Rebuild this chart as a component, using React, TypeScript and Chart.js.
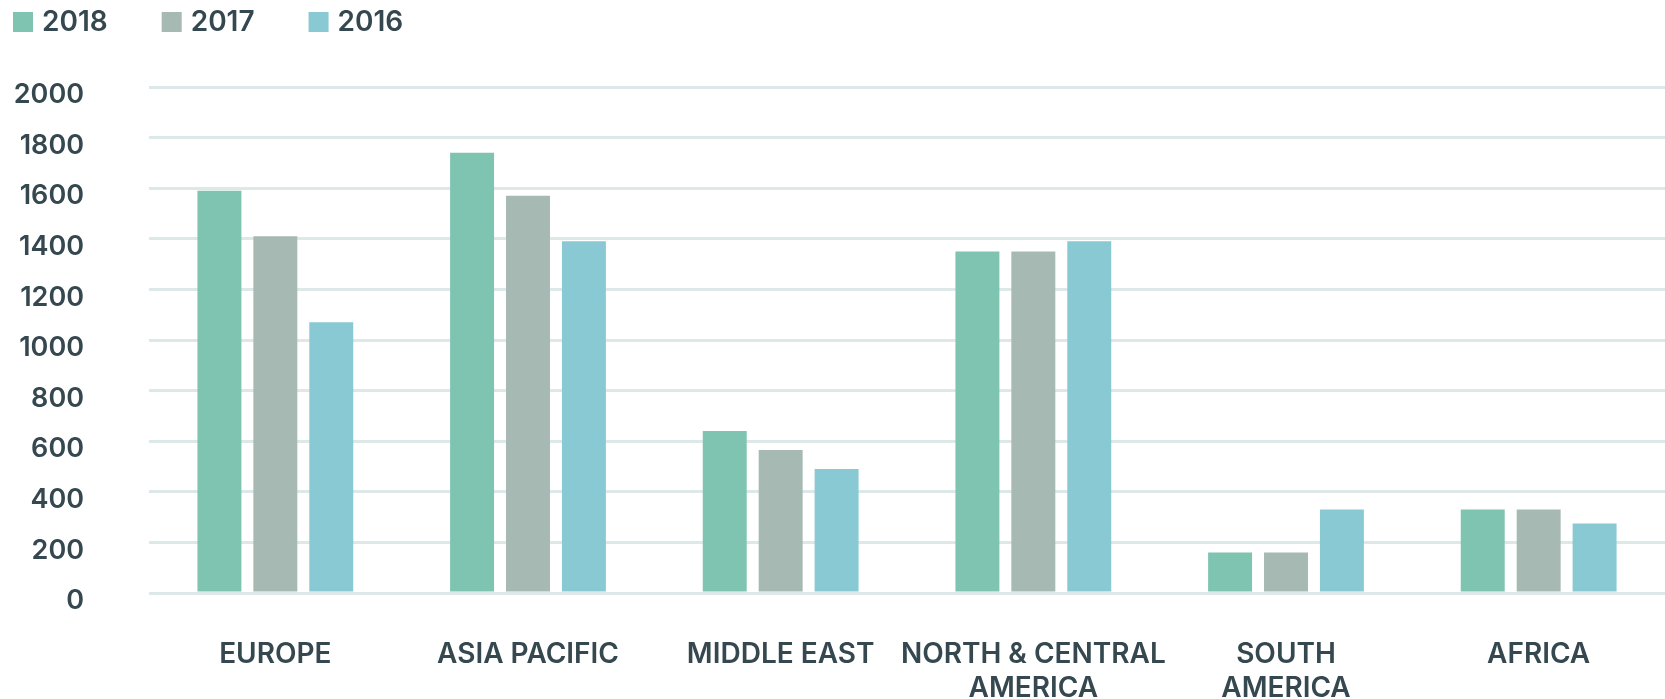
import React, { useEffect, useRef } from "react";
import { Chart, registerables } from "chart.js";

Chart.register(...registerables);

const categories: (string | string[])[] = [
  "EUROPE",
  "ASIA PACIFIC",
  "MIDDLE EAST",
  ["NORTH & CENTRAL", "AMERICA"],
  ["SOUTH", "AMERICA"],
  "AFRICA",
];
const seriesLabels = ["2018", "2017", "2016"];
const values2018 = [1590, 1740, 640, 1350, 160, 330];
const values2017 = [1410, 1570, 565, 1350, 160, 330];
const values2016 = [1070, 1390, 490, 1390, 330, 275];
const seriesColors = ["#7fc4b1", "#a6b9b2", "#89c9d4"];
const yMin = 0;
const yMax = 2000;
const yStep = 200;

const TEXT = "#36484f";
const GRID = "#dde8e8";
const FONT = "Inter, 'Open Sans', sans-serif";

const legendPlugin = {
  id: "topLegend",
  afterDraw(chart: any) {
    const ctx = chart.ctx as CanvasRenderingContext2D;
    ctx.save();
    ctx.font = `600 28px ${FONT}`;
    ctx.textBaseline = "middle";
    ctx.textAlign = "left";
    let x = 13;
    chart.data.datasets.forEach((ds: any) => {
      ctx.fillStyle = ds.backgroundColor;
      ctx.fillRect(x, 12, 20, 20);
      ctx.fillStyle = TEXT;
      ctx.fillText(ds.label, x + 29, 23);
      x += 29 + ctx.measureText(ds.label).width + 54;
    });
    ctx.restore();
  },
};

export default function App() {
  const ref = useRef<HTMLCanvasElement | null>(null);

  useEffect(() => {
    if (!ref.current) return;
    const allValues = [values2018, values2017, values2016];
    const chart = new Chart(ref.current, {
      type: "bar",
      data: {
        labels: categories,
        datasets: seriesLabels.map((label, i) => ({
          label,
          data: allValues[i],
          backgroundColor: seriesColors[i],
          borderWidth: 0,
          categoryPercentage: 0.664,
          barPercentage: 0.786,
        })),
      },
      options: {
        animation: false,
        responsive: true,
        maintainAspectRatio: false,
        layout: { padding: { top: 87, right: 0, left: 0, bottom: 0 } },
        plugins: {
          legend: { display: false },
          tooltip: { enabled: false },
        },
        scales: {
          x: {
            grid: { display: false, drawTicks: false },
            border: { display: false },
            ticks: {
              color: TEXT,
              font: { family: FONT, size: 28, weight: 600, lineHeight: 1.22 },
              padding: 44,
              maxRotation: 0,
              autoSkip: false,
            },
            afterFit: (s: any) => {
              s.height = 106;
            },
          },
          y: {
            min: yMin,
            max: yMax,
            grid: { color: GRID, lineWidth: 3, drawTicks: false },
            border: { display: false },
            ticks: {
              stepSize: yStep,
              color: TEXT,
              font: { family: FONT, size: 27, weight: 600 },
              padding: 65,
              labelOffset: 8,
              callback: (v: any) => String(v),
            },
            afterFit: (s: any) => {
              s.width = 149;
            },
          },
        },
      },
      plugins: [legendPlugin],
    });
    return () => chart.destroy();
  }, []);

  return (
    <div style={{ position: "fixed", left: 0, top: 0, width: 1665, height: 699, background: "#fff" }}>
      <canvas ref={ref} />
    </div>
  );
}
